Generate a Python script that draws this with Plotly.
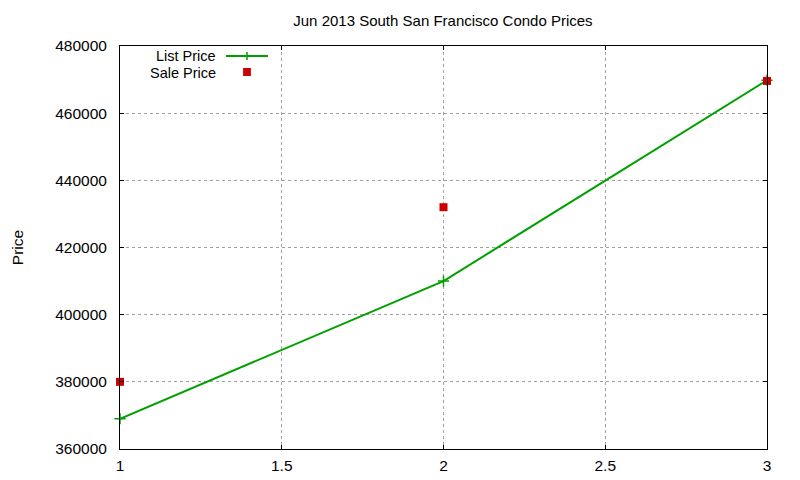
import plotly.graph_objects as go

bedrooms = [1, 2, 3]
list_price = [369000, 410000, 469800]
sale_price = [380000, 432000, 469600]

green = 'rgb(0,160,0)'
red = 'rgb(204,0,0)'

fig = go.Figure()

fig.add_trace(go.Scatter(
    x=bedrooms, y=list_price, mode='lines+markers', name='List Price',
    line=dict(color=green, width=2),
    marker=dict(symbol='cross-thin', size=8, line=dict(color=green, width=1.5)),
    cliponaxis=False, showlegend=False))

fig.add_trace(go.Scatter(
    x=bedrooms, y=sale_price, mode='markers', name='Sale Price',
    marker=dict(symbol='square', size=8, color=red),
    cliponaxis=False, showlegend=False))

# gnuplot style key: label on the left, sample on the right
font = dict(family='Liberation Sans, Arial, sans-serif', size=15.5, color='black')
key_font = dict(family=font['family'], size=14.5, color='black')
fig.add_annotation(x=0.1515, y=0.9764, xref='paper', yref='paper', text='List Price',
                   showarrow=False, xanchor='right', yanchor='middle', font=key_font)
fig.add_annotation(x=0.1515, y=0.9330, xref='paper', yref='paper', text='Sale Price',
                   showarrow=False, xanchor='right', yanchor='middle', font=key_font)
fig.add_shape(type='line', xref='paper', yref='paper', x0=0.1638, x1=0.2287, y0=0.975, y1=0.975,
              line=dict(color=green, width=2))
fig.add_shape(type='line', xref='paper', yref='paper', x0=0.1963, x1=0.1963, y0=0.965, y1=0.985,
              line=dict(color=green, width=1.5))
fig.add_shape(type='rect', xref='paper', yref='paper', x0=0.1903, x1=0.2023, y0=0.9255, y1=0.9455,
              line=dict(width=0), fillcolor=red)

fig.update_xaxes(range=[1, 3], dtick=0.5, tick0=1, showgrid=True,
                 gridcolor='rgb(160,160,160)', griddash='dot', gridwidth=1,
                 showline=True, linecolor='black', linewidth=1, mirror='ticks',
                 ticks='inside', ticklen=4, tickcolor='black', zeroline=False,
                 tickfont=font, ticklabelstandoff=2, automargin=False)
fig.update_yaxes(range=[360000, 480000], dtick=20000, tickformat='d', showgrid=True,
                 gridcolor='rgb(160,160,160)', griddash='dot', gridwidth=1,
                 showline=True, linecolor='black', linewidth=1, mirror='ticks',
                 ticks='inside', ticklen=4, tickcolor='black', zeroline=False,
                 tickfont=font, ticklabelstandoff=9, automargin=False,
                 title=dict(text='Price', font=font, standoff=27))

fig.update_layout(
    width=800, height=480,
    margin=dict(l=112, r=41, t=38, b=39),
    paper_bgcolor='white', plot_bgcolor='white',
    font=font,
    title=dict(text='Jun 2013 South San Francisco Condo Prices', x=0.5437, xanchor='center',
               y=0.973, yanchor='middle', font=dict(family=font['family'], size=15, color='black')),
)

fig.write_html("out.html")
